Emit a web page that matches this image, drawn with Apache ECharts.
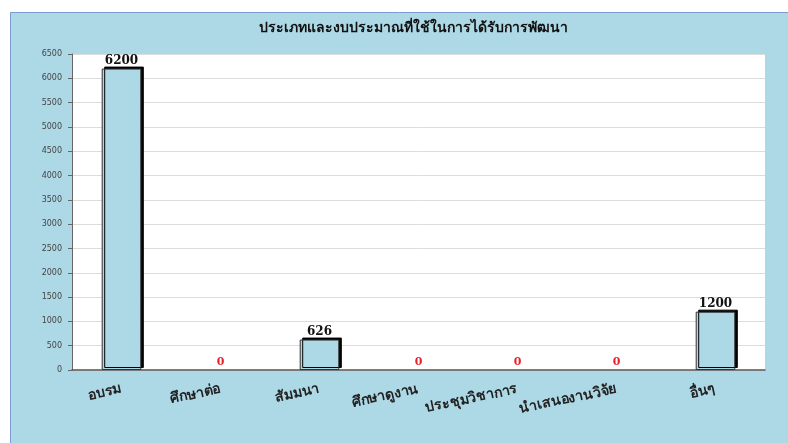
<!DOCTYPE html>
<html>
<head>
<meta charset="utf-8">
<script src="https://cdn.jsdelivr.net/npm/echarts@6/dist/echarts.min.js"></script>
<style>
  html, body { margin: 0; padding: 0; background: #fff; }
  #chart { width: 788px; height: 443px; }
</style>
</head>
<body>
<div id="chart"></div>
<script>
// หมวดหมู่และงบประมาณ
const categories = ["อบรม", "ศึกษาต่อ", "สัมมนา", "ศึกษาดูงาน", "ประชุมวิชาการ", "นำเสนองานวิจัย", "อื่นๆ"];
const budget = [6200, 0, 626, 0, 0, 0, 1200];
const yTicks = { min: 0, max: 6500, interval: 500 };

const chart = echarts.init(document.getElementById("chart"));

// แท่งที่เป็น 0 ไม่ต้องมีขอบ/เงา
const barData = budget.map((v) => v === 0
  ? { value: v, itemStyle: { borderWidth: 0, shadowColor: "transparent" } }
  : v);

const option = {
  animation: false,
  backgroundColor: "#fff",
  graphic: [
    {
      // กรอบพื้นหลังสีฟ้า
      type: "rect",
      z: -10,
      shape: { x: 10.5, y: 12.5, width: 790, height: 440 },
      style: { fill: "#add8e6", stroke: "#7d9bd3", lineWidth: 1 }
    }
  ],
  title: {
    text: "ประเภทและงบประมาณที่ใช้ในการได้รับการพัฒนา",
    left: 408,
    top: 16,
    textAlign: "center",
    textStyle: {
      fontFamily: "DejaVu Serif, serif",
      fontWeight: "bold",
      fontSize: 14,
      color: "#111"
    }
  },
  grid: {
    left: 72,
    right: 23,
    top: 54,
    bottom: 73,
    show: true,
    backgroundColor: "#fff",
    borderWidth: 0
  },
  xAxis: {
    type: "category",
    data: categories,
    axisLine: { lineStyle: { color: "#555", width: 1.5 } },
    axisTick: { inside: true, length: 4, lineStyle: { color: "#666" } },
    axisLabel: {
      rotate: 12,
      margin: 19,
      fontFamily: "DejaVu Serif, serif",
      fontWeight: "bold",
      fontSize: 14,
      color: "#222"
    }
  },
  yAxis: {
    type: "value",
    min: yTicks.min,
    max: yTicks.max,
    interval: yTicks.interval,
    axisLine: { show: true, lineStyle: { color: "#666" } },
    axisTick: { show: true, length: 4, lineStyle: { color: "#666" } },
    axisLabel: {
      fontSize: 8,
      color: "#444",
      margin: 10,
      fontFamily: "Verdana, DejaVu Sans, sans-serif",
      formatter: (v) => String(v)
    },
    splitLine: { lineStyle: { color: "#dcdcdc" } }
  },
  series: [
    {
      type: "bar",
      data: barData,
      barWidth: "40%",
      itemStyle: {
        color: "#add8e6",
        borderColor: "#333",
        borderWidth: 1,
        shadowColor: "#000",
        shadowOffsetX: 2.5,
        shadowOffsetY: -2,
        shadowBlur: 0
      },
      label: {
        show: true,
        position: "top",
        distance: 2,
        fontFamily: "DejaVu Serif, serif",
        fontWeight: "bold",
        fontSize: 12,
        formatter: (p) => p.value === 0 ? "{z|0}" : String(p.value),
        color: "#111",
        rich: {
          z: { color: "#e8202a", fontWeight: "bold", fontSize: 11, fontFamily: "DejaVu Serif, serif" }
        }
      }
    }
  ]
};

chart.setOption(option);
</script>
</body>
</html>
